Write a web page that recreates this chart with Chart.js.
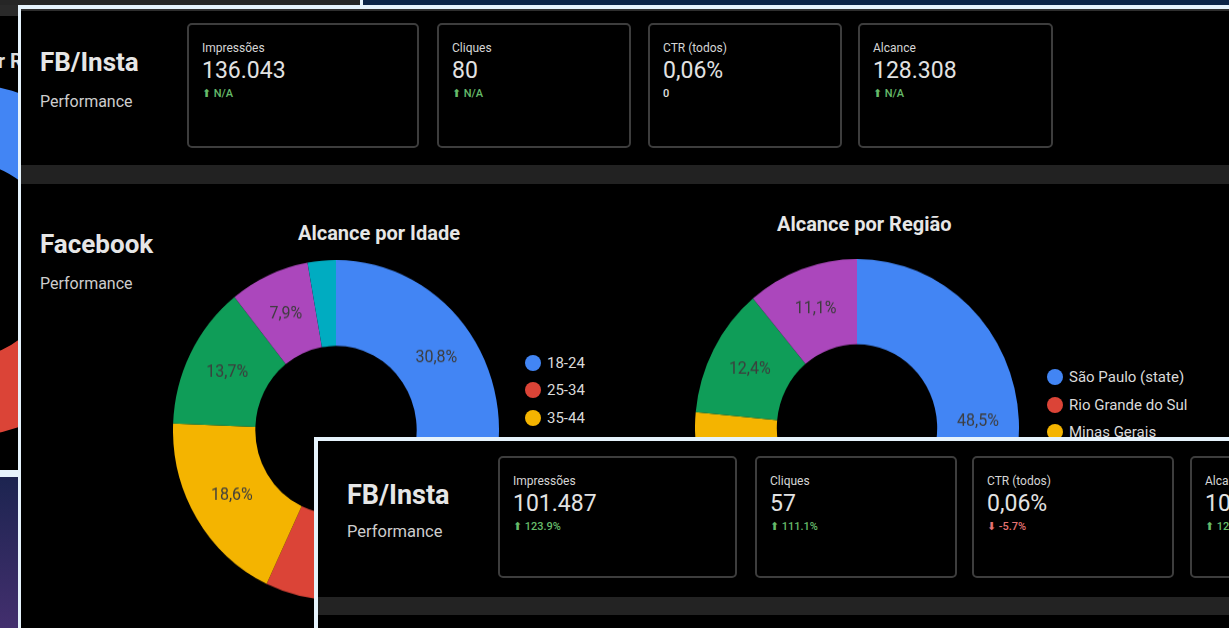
<!DOCTYPE html>
<html lang="pt-BR">
<head>
<meta charset="utf-8">
<title>FB/Insta Performance</title>
<script src="https://cdn.jsdelivr.net/npm/chart.js@4.4.1/dist/chart.umd.min.js"></script>
<style>
  html, body { margin: 0; padding: 0; }
  body {
    width: 1229px; height: 628px; overflow: hidden; position: relative;
    background: #000; font-family: Roboto, "Noto Sans", sans-serif; color: #e0e0e0;
  }
  .abs { position: absolute; }
  .t { position: absolute; white-space: nowrap; }
  .card { position: absolute; box-sizing: border-box; border: 2px solid #3d3d3d; border-radius: 5px; background: #000; }
  .dot { position: absolute; border-radius: 50%; }
</style>
</head>
<body>
<script>
// Alcance por Idade
const idadeLabels = ["18-24", "25-34", "35-44", "45-54", "55-64", "65+"];
const idadeValues = [30.8, 26.2, 18.6, 13.7, 7.9, 2.8];

// Alcance por Região
const regiaoLabels = ["São Paulo (state)", "Rio Grande do Sul", "Minas Gerais", "Paraná", "Santa Catarina"];
const regiaoValues = [48.5, 14.6, 13.4, 12.4, 11.1];

// cut-off chart from the screenshot behind, far left
const fundoValues = [38, 27, 14, 12, 9];

const sliceColors = ["#4285f4", "#db4437", "#f4b400", "#0f9d58", "#ab47bc", "#00acc1"];

// scorecards
const kpiTitles = ["Impressões", "Cliques", "CTR (todos)", "Alcance"];
const kpiValuesA = ["136.043", "80", "0,06%", "128.308"];
const kpiDeltasA = ["N/A", "N/A", "0", "N/A"];
const kpiDirsA = ["up", "up", "none", "up"];
const kpiValuesB = ["101.487", "57", "0,06%", "101.980"];
const kpiDeltasB = ["123.9%", "111.1%", "-5.7%", "123.4%"];
const kpiDirsB = ["up", "up", "down", "up"];

const body = document.body;

function box(x, y, w, h, css, z) {
  const d = document.createElement("div");
  d.className = "abs";
  d.style.left = x + "px";
  d.style.top = y + "px";
  d.style.width = w + "px";
  d.style.height = h + "px";
  d.style.zIndex = z;
  Object.assign(d.style, css);
  body.appendChild(d);
  return d;
}

function text(str, x, cy, size, z, css) {
  const d = document.createElement("div");
  d.className = "t";
  d.textContent = str;
  d.style.left = x + "px";
  d.style.top = (cy - size * 0.6) + "px";
  d.style.fontSize = size + "px";
  d.style.lineHeight = (size * 1.2) + "px";
  d.style.zIndex = z;
  Object.assign(d.style, css || {});
  body.appendChild(d);
  return d;
}

function cards(xs, ws, top, h, values, deltas, dirs, sc, z) {
  for (let i = 0; i < xs.length; i++) {
    const c = document.createElement("div");
    c.className = "card";
    c.style.left = xs[i] + "px";
    c.style.top = top + "px";
    c.style.width = ws[i] + "px";
    c.style.height = h + "px";
    c.style.zIndex = z;
    body.appendChild(c);
    const x = xs[i] + 15 * sc;
    text(kpiTitles[i], x, top + 25 * sc, 12 * sc, z + 1, { color: "#d6d6d6" });
    text(values[i], x, top + 47.5 * sc, 23 * sc, z + 1, { color: "#e2e2e2" });
    let col = "#e0e0e0", s = deltas[i];
    if (dirs[i] === "up") { col = "#66bb6a"; s = "⬆ " + s; }
    if (dirs[i] === "down") { col = "#e57373"; s = "⬇ " + s; }
    text(s, x, top + 71 * sc, 11 * sc, z + 1, { color: col, fontWeight: "500" });
  }
}

function legend(labels, x, y0, step, count) {
  for (let i = 0; i < count; i++) {
    const cy = y0 + i * step;
    const d = document.createElement("div");
    d.className = "dot";
    d.style.left = (x - 8) + "px";
    d.style.top = (cy - 8) + "px";
    d.style.width = "16px";
    d.style.height = "16px";
    d.style.background = sliceColors[i];
    d.style.zIndex = 3;
    body.appendChild(d);
    text(labels[i], x + 14, cy, 15, 3, { color: "#dadada" });
  }
}

// percent labels inside the slices
const sliceLabels = {
  id: "sliceLabels",
  afterDatasetsDraw(chart, args, opts) {
    if (!opts.show) return;
    const ctx = chart.ctx;
    const data = chart.data.datasets[0].data;
    const total = data.reduce((a, b) => a + b, 0);
    ctx.save();
    ctx.font = "16px Roboto";
    ctx.fillStyle = "#3d3d3d";
    ctx.textAlign = "center";
    ctx.textBaseline = "middle";
    chart.getDatasetMeta(0).data.forEach((arc, i) => {
      const pct = data[i] * 100 / total;
      if (pct < 5) return;
      const p = arc.tooltipPosition();
      ctx.fillText(pct.toFixed(1).replace(".", ",") + "%", p.x, p.y);
    });
    ctx.restore();
  }
};

function doughnut(x, y, size, values, showLabels, z, stretch, cutout) {
  const wrap = box(x, y, size, size, { transformOrigin: "top left", transform: "scaleY(" + stretch + ")" }, z);
  const canvas = document.createElement("canvas");
  canvas.width = size;
  canvas.height = size;
  wrap.appendChild(canvas);
  new Chart(canvas.getContext("2d"), {
    type: "doughnut",
    data: {
      labels: values.map((v, i) => i),
      datasets: [{ data: values, backgroundColor: sliceColors.slice(0, values.length), borderWidth: 0 }]
    },
    options: {
      responsive: false,
      animation: false,
      cutout: cutout,
      layout: { padding: 0 },
      plugins: { legend: { display: false }, tooltip: { enabled: false }, sliceLabels: { show: showLabels } }
    },
    plugins: [sliceLabels]
  });
}

// top strips of the screenshots behind
box(0, 0, 360, 5, { background: "#262626" }, 1);
box(360, 0, 3, 5, { background: "#e6f3fc" }, 1);
box(363, 0, 866, 5, { background: "#0b2447" }, 1);

// far left screenshot
box(0, 5, 18, 11, { background: "#2a2a2a" }, 1);
text("Alcance por Região", -102, 61, 20, 1, { fontWeight: "700", color: "#dcdcdc" });
doughnut(-217, 83, 354, fundoValues, false, 1, 1, "56%");
box(0, 470, 18, 7, { background: "#e6f3fc" }, 1);
box(0, 477, 18, 151, { background: "linear-gradient(#1c2450, #432f6e)" }, 1);

// main screenshot
box(18, 5, 1211, 623, { background: "#000", borderLeft: "3px solid #e6f3fc", borderTop: "4px solid #e6f3fc", boxSizing: "border-box" }, 2);
box(21, 9, 1208, 2, { background: "#2e2e2e" }, 3);
text("FB/Insta", 40, 62.5, 26, 3, { fontWeight: "700", color: "#e6e6e6" });
text("Performance", 40, 101.5, 16, 3, { color: "#cdcdcd" });
cards([187, 437, 648, 858], [232, 194, 194, 195], 23, 125, kpiValuesA, kpiDeltasA, kpiDirsA, 1, 3);
box(21, 165, 1208, 19, { background: "#222" }, 3);

text("Facebook", 40, 245, 26, 3, { fontWeight: "700", color: "#e6e6e6" });
text("Performance", 40, 284, 16, 3, { color: "#cdcdcd" });

text("Alcance por Idade", 298, 233, 20, 3, { fontWeight: "700", color: "#e6e6e6" });
doughnut(173, 260, 326, idadeValues, true, 3, 1.043, "49.5%");
legend(idadeLabels, 533, 363, 27.3, 4);

text("Alcance por Região", 777, 224, 20, 3, { fontWeight: "700", color: "#e6e6e6" });
doughnut(695, 259, 324, regiaoValues, true, 3, 1.043, "49.5%");
legend(regiaoLabels, 1055, 377, 27.5, 3);

// screenshot on top
box(314, 437, 915, 191, { background: "#000", borderLeft: "4px solid #e6f3fc", borderTop: "4px solid #e6f3fc", boxSizing: "border-box" }, 10);
text("FB/Insta", 347, 495, 27, 11, { fontWeight: "700", color: "#e6e6e6" });
text("Performance", 347, 532, 16.5, 11, { color: "#cdcdcd" });
cards([498, 755, 972, 1190], [239, 202, 202, 202], 456, 122, kpiValuesB, kpiDeltasB, kpiDirsB, 1.0, 11);
box(318, 597, 911, 18, { background: "#232323" }, 11);
</script>
</body>
</html>
